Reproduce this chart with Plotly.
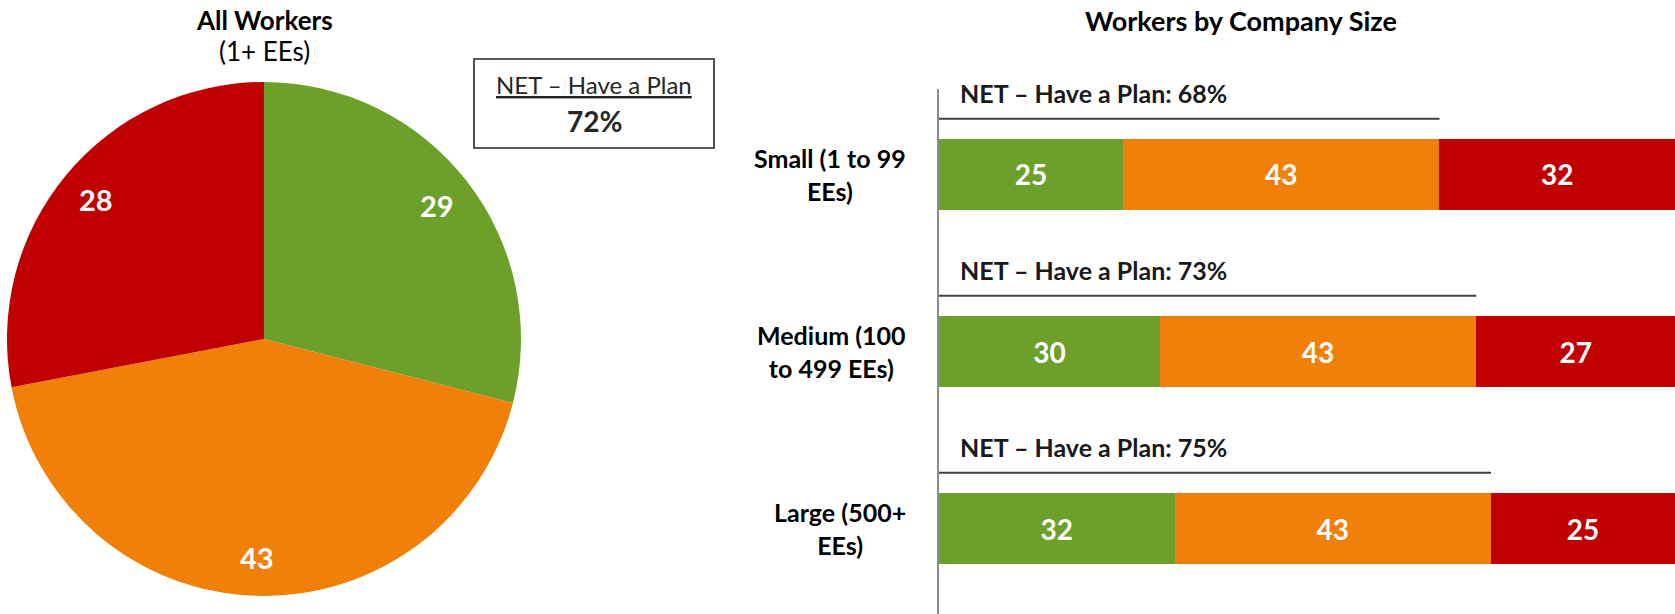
import math
import plotly.graph_objects as go

# ---- data ----
pie_labels = ["Have a plan (green)", "Have a plan (orange)", "No plan"]
pie_values = [29, 43, 28]
pie_net = 72

sizes = ["Small (1 to 99<br>EEs)", "Medium (100<br>to 499 EEs)", "Large (500+<br>EEs)"]
green_vals = [25, 30, 32]
orange_vals = [43, 43, 43]
red_vals = [32, 27, 25]
net_vals = [68, 73, 75]

GREEN = "#6CA02A"
ORANGE = "#F0800A"
RED = "#C00000"
FONT = "Lato"
W, H = 1675, 614

fig = go.Figure()

# ---- pie: all workers ----
pie_dom_x = [7 / W, 521 / W]
pie_dom_y = [1 - 596 / H, 1 - 82 / H]
fig.add_trace(go.Pie(
    labels=pie_labels, values=pie_values, sort=False, direction="clockwise",
    rotation=0, marker=dict(colors=[GREEN, ORANGE, RED], line=dict(width=0)),
    textinfo="none", showlegend=False, hoverinfo="label+value",
    domain=dict(x=pie_dom_x, y=pie_dom_y),
))

# value labels placed along each slice's mid-angle (axes overlaying the pie)
tot = sum(pie_values)
cum = 0
for v in pie_values:
    mid = (cum + v / 2) / tot * 2 * math.pi
    fig.add_annotation(
        x=0.85 * math.sin(mid), y=0.85 * math.cos(mid), xref="x3", yref="y3",
        text=f"<b>{v}</b>", showarrow=False, xanchor="center", yanchor="middle",
        font=dict(family=FONT, size=29, color="white"),
    )
    cum += v

# ---- stacked bars by company size ----
ypos = list(range(len(sizes)))
for vals, col in [(green_vals, GREEN), (orange_vals, ORANGE), (red_vals, RED)]:
    fig.add_trace(go.Bar(
        x=vals, y=ypos, orientation="h", width=0.40,
        marker=dict(color=col, line=dict(width=0)),
        text=[str(v) for v in vals], textposition="inside",
        insidetextanchor="middle",
        textfont=dict(family=FONT, size=28, color="white", weight="bold"),
        xaxis="x2", yaxis="y2", showlegend=False, hoverinfo="x",
    ))

# NET lines above each bar
for i, n in enumerate(net_vals):
    fig.add_trace(go.Scatter(
        x=[0, n], y=[i - 0.315, i - 0.315], mode="lines",
        line=dict(color="#404040", width=2.2),
        xaxis="x2", yaxis="y2", showlegend=False, hoverinfo="skip",
    ))
    fig.add_annotation(
        x=2.6, y=i - 0.46, xref="x2", yref="y2", xanchor="left", yanchor="middle",
        text=f"<b>NET – Have a Plan: {n}%</b>", showarrow=False,
        font=dict(family=FONT, size=25, color="#1A1A1A"),
    )

# category labels, centred lines
axis_x = 939 / W
for i, s in enumerate(sizes):
    fig.add_annotation(
        x=axis_x - 31 / W, y=i, xref="paper", yref="y2",
        xanchor="right", yanchor="middle", align="center",
        text=f"<b>{s}</b>", showarrow=False,
        font=dict(family=FONT, size=25, color="#000000"),
    )

# ---- titles ----
fig.add_annotation(x=264 / W, y=1 - 20 / H, xref="paper", yref="paper",
                   text="<b>All Workers</b>", showarrow=False,
                   font=dict(family=FONT, size=26, color="#000000"),
                   xanchor="center", yanchor="middle")
fig.add_annotation(x=264 / W, y=1 - 51 / H, xref="paper", yref="paper",
                   text="(1+ EEs)", showarrow=False,
                   font=dict(family=FONT, size=26, color="#000000"),
                   xanchor="center", yanchor="middle")
fig.add_annotation(x=1241 / W, y=1 - 20 / H, xref="paper", yref="paper",
                   text="<b>Workers by Company Size</b>", showarrow=False,
                   font=dict(family=FONT, size=27, color="#000000"),
                   xanchor="center", yanchor="middle")

# NET box for all workers
fig.add_shape(type="rect", xref="paper", yref="paper",
              x0=474 / W, x1=714 / W, y0=1 - 148 / H, y1=1 - 59 / H,
              line=dict(color="#262626", width=1.6), fillcolor="white")
fig.add_annotation(x=594 / W, y=1 - 84 / H, xref="paper", yref="paper",
                   text="<u>NET – Have a Plan</u>", showarrow=False,
                   font=dict(family=FONT, size=24, color="#262626"),
                   xanchor="center", yanchor="middle")
fig.add_annotation(x=594 / W, y=1 - 121 / H, xref="paper", yref="paper",
                   text=f"<b>{pie_net}%</b>", showarrow=False,
                   font=dict(family=FONT, size=28, color="#262626"),
                   xanchor="center", yanchor="middle")

fig.update_layout(
    width=W, height=H, margin=dict(l=0, r=0, t=0, b=0),
    paper_bgcolor="white", plot_bgcolor="white",
    barmode="stack",
    xaxis2=dict(domain=[axis_x, 1.0], range=[0, 100], visible=False, fixedrange=True),
    yaxis2=dict(domain=[0, 1 - 89 / H], range=[2.483, -0.483], anchor="x2",
                showline=True, linecolor="#8C8C8C", linewidth=1.5,
                showticklabels=False, showgrid=False, zeroline=False, ticks=""),
    xaxis3=dict(domain=pie_dom_x, range=[-1, 1], visible=False, anchor="y3"),
    yaxis3=dict(domain=pie_dom_y, range=[-1, 1], visible=False, anchor="x3"),
)

fig.write_html("out.html")
